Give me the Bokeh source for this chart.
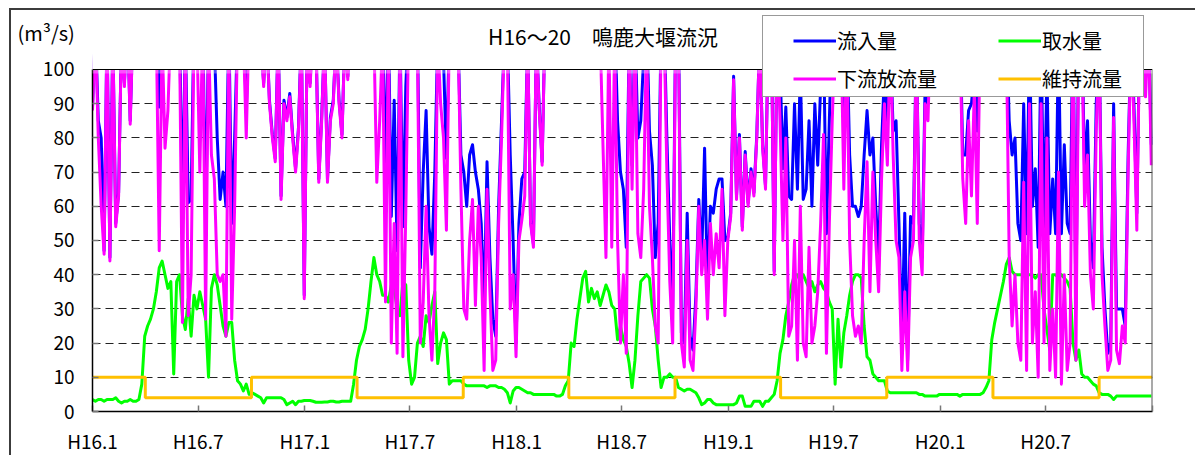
import pandas as pd
from bokeh.plotting import figure
from bokeh.models import Range1d, FixedTicker, Legend, LegendItem, Label, BoxAnnotation, Span
from bokeh.embed import file_html
from bokeh.resources import INLINE

# Kuzuryu River, Narutoshika weir: 5-day readings from 2004-01-01 (H16) to 2008-12-30 (H20), m3/s
# (values above the 100 ceiling run off the top of the chart)
START = pd.Timestamp("2004-01-01")
STEP_DAYS = 5

# 流入量 (inflow)
inflow_h16 = [89, 112, 85, 80, 47, 112, 45, 111, 55, 64,
              110, 96, 116, 85, 114, 116, 116, 112, 116, 116,
              116, 116, 116, 89, 116, 116, 110, 116, 114, 116,
              116, 54, 112, 61, 62, 116, 116, 105, 116, 54,
              110, 111, 108, 80, 62, 70, 60, 114, 55, 80,
              112, 116, 116, 88, 114, 116, 116, 114, 110, 96,
              112, 91, 81, 74, 111, 63, 91, 86, 93, 81,
              71, 83, 111]
inflow_h17 = [34, 110, 96, 112, 111, 68, 86, 110, 68, 86,
              91, 110, 91, 81, 110, 98, 114, 116, 116, 114,
              116, 116, 116, 116, 116, 107, 110, 116, 66, 116,
              57, 91, 47, 112, 54, 95, 116, 116, 114, 114,
              42, 70, 88, 54, 46, 70, 110, 110, 103, 74,
              110, 116, 112, 110, 75, 70, 60, 75, 78, 70,
              65, 55, 30, 73, 45, 27, 22, 60, 85, 110,
              110, 75, 50]
inflow_h18 = [20, 55, 68, 70, 110, 56, 49, 110, 89, 73,
              114, 114, 116, 116, 116, 116, 114, 116, 116, 116,
              116, 116, 116, 116, 116, 116, 116, 116, 116, 116,
              111, 110, 114, 105, 116, 85, 70, 65, 48, 110,
              72, 114, 80, 85, 104, 116, 82, 72, 45, 55,
              112, 116, 80, 50, 30, 112, 116, 23, 20, 58,
              22, 18, 34, 62, 45, 77, 35, 60, 58, 65,
              68, 68, 50]
inflow_h19 = [51, 58, 98, 63, 81, 54, 76, 61, 71, 64,
              81, 110, 78, 66, 112, 114, 41, 112, 102, 71,
              89, 63, 62, 90, 65, 100, 62, 65, 85, 60,
              90, 72, 95, 110, 52, 85, 115, 110, 116, 114,
              88, 112, 75, 60, 60, 57, 60, 75, 88, 75,
              80, 60, 45, 78, 99, 84, 110, 82, 85, 55,
              20, 58, 15, 57, 55, 110, 55, 45, 95, 90,
              114, 116, 112]
inflow_h20 = [110, 114, 115, 112, 116, 110, 112, 115, 75, 75,
              88, 90, 100, 82, 110, 114, 116, 112, 110, 116,
              116, 116, 116, 116, 85, 75, 80, 55, 50, 90,
              52, 110, 60, 71, 48, 110, 50, 100, 52, 68,
              52, 110, 52, 78, 55, 52, 116, 30, 116, 114,
              70, 85, 50, 42, 90, 110, 48, 30, 17, 20,
              90, 30, 30, 30, 25, 75, 110, 90, 58, 112,
              114, 97, 112, 78]

# 取水量 (intake)
intake_h16 = [3.5, 3, 3.5, 3.5, 3, 3.5, 3.5, 3.5, 4, 3,
              2.5, 3, 3, 3.5, 3, 3, 3.5, 8, 22, 25,
              27, 30, 35, 42, 44, 40, 36, 38, 11, 38,
              40, 28, 24, 33, 22, 34, 30, 35, 31, 27,
              10, 36, 40, 37, 31, 25, 22, 26, 26, 15,
              9, 8, 6, 8, 5, 5.5, 5, 4.5, 4, 2.5,
              4, 4, 4, 4, 4, 4, 3.5, 2, 2.5, 3,
              2, 3, 3]
intake_h17 = [3.2, 3.2, 3.2, 3, 2.7, 2.7, 2.7, 2.8, 2.8, 3,
              3, 2.8, 2.8, 3, 3, 3, 3, 8, 15, 19,
              21, 24, 30, 38, 45, 40, 38, 34, 34, 32,
              37, 36, 30, 28, 38, 37, 15, 8, 10, 20,
              22, 19, 28, 26, 31, 35, 14, 20, 23, 21,
              8, 9, 9, 9, 9, 8, 7.5, 7.5, 7.5, 7.5,
              7.5, 7.5, 7.5, 7, 7.5, 7.5, 7.5, 7, 7, 6.5,
              5.5, 2.5, 6]
intake_h18 = [7, 7, 6.5, 6, 5.5, 5.5, 5, 5, 5, 5,
              5, 5, 5, 5, 4.5, 4.5, 5, 7.5, 9, 20,
              19, 27, 33, 39, 41, 32, 36, 33, 35, 31,
              34, 37, 35, 31, 30, 21, 25, 21, 19, 14,
              7, 15, 28, 38, 39, 40, 39, 30, 25, 15,
              7, 10, 10, 11, 10, 10, 7, 6.5, 6, 6.5,
              6.5, 6, 5.5, 4, 2, 2.5, 3.5, 3.5, 2.5, 2,
              2, 2, 2]
intake_h19 = [2, 2, 2, 2.5, 4.5, 4.5, 1.5, 1.5, 1.5, 3,
              3, 3, 1.5, 3, 3, 4, 5, 9, 17, 21,
              28, 32, 37, 40, 40, 38, 40, 38, 36, 38,
              35, 37, 38, 36, 35, 32, 30, 8, 27, 13,
              23, 28, 34, 38, 40, 40, 39, 25, 16, 15,
              11, 10, 9, 9, 9, 6, 5.5, 5.5, 5.5, 5.5,
              5.5, 5.5, 5.5, 5.5, 5.5, 5.5, 5, 5, 4.5, 4.5,
              4.5, 4.5, 4.5]
intake_h20 = [5, 5, 5, 5, 5, 5, 5, 4.5, 5, 5,
              5, 5, 5, 5, 5, 5.5, 7, 9, 21, 26,
              30, 34, 38, 43, 45, 41, 40, 40, 40, 40,
              40, 40, 40, 39, 40, 40, 30, 24, 18, 40,
              40, 39, 40, 39, 38, 36, 20, 15, 18, 11,
              10, 10, 9, 8, 7.5, 5.5, 5, 5, 5, 4.5,
              3.5, 4.5, 4.5, 4.5, 4.5, 4.5, 4.5, 4.5, 4.5, 4.5,
              4.5, 4.5, 4.5, 4.5]

# 下流放流量 (downstream release)
release_h16 = [88, 112, 80, 60, 46, 112, 44, 110, 54, 63,
               110, 95, 116, 84, 114, 116, 116, 112, 116, 116,
               114, 110, 112, 47, 110, 77, 88, 114, 112, 116,
               110, 26, 110, 28, 40, 112, 110, 70, 114, 27,
               110, 75, 68, 40, 38, 40, 22, 110, 27, 60,
               112, 116, 110, 80, 114, 116, 116, 114, 110, 95,
               112, 90, 80, 73, 110, 62, 90, 85, 92, 80,
               70, 82, 110]
release_h17 = [33, 110, 95, 112, 110, 67, 85, 110, 67, 85,
               90, 110, 90, 80, 110, 97, 114, 116, 116, 112,
               116, 116, 114, 112, 110, 67, 85, 110, 32, 110,
               20, 55, 17, 110, 16, 58, 114, 116, 112, 110,
               20, 32, 60, 28, 15, 35, 110, 90, 80, 53,
               110, 116, 112, 110, 65, 30, 27, 50, 62, 31,
               60, 45, 12, 65, 35, 12, 15, 55, 80, 110,
               110, 30, 40]
release_h18 = [16, 50, 56, 63, 110, 55, 48, 110, 88, 72,
               114, 114, 116, 116, 116, 116, 114, 116, 116, 112,
               116, 114, 116, 116, 114, 112, 116, 114, 112, 110,
               77, 45, 110, 48, 110, 50, 20, 40, 17, 110,
               65, 112, 52, 45, 65, 110, 60, 45, 25, 20,
               112, 114, 70, 38, 20, 110, 110, 20, 13, 50,
               15, 12, 30, 60, 40, 50, 27, 55, 40, 52,
               42, 65, 28]
release_h19 = [50, 57, 97, 62, 80, 53, 75, 60, 70, 63,
               80, 110, 77, 65, 112, 114, 40, 112, 85, 50,
               80, 22, 25, 50, 15, 60, 20, 16, 48, 20,
               25, 35, 55, 81, 17, 55, 85, 110, 114, 112,
               65, 110, 50, 28, 22, 25, 20, 50, 73, 35,
               70, 50, 35, 68, 90, 72, 110, 75, 50, 45,
               12, 35, 12, 45, 50, 110, 50, 40, 90, 85,
               114, 116, 112]
release_h20 = [110, 114, 110, 112, 116, 110, 112, 110, 68, 55,
               85, 63, 95, 55, 110, 114, 116, 112, 97, 114,
               116, 112, 114, 110, 45, 25, 40, 20, 15, 67,
               12, 90, 20, 35, 10, 90, 20, 80, 12, 30,
               10, 70, 8, 40, 12, 20, 112, 15, 114, 112,
               60, 75, 40, 30, 82, 110, 40, 25, 12, 15,
               86, 18, 14, 25, 20, 70, 110, 85, 53, 112,
               114, 92, 112, 72]

# 維持流量 (required maintenance flow), one value per month
maint_h16 = [10, 10, 10, 4, 4, 4, 4, 4, 4, 10, 10, 10]
maint_h17 = [10, 10, 10, 4, 4, 4, 4, 4, 4, 10, 10, 10]
maint_h18 = [10, 10, 10, 4, 4, 4, 4, 4, 4, 10, 10, 10]
maint_h19 = [10, 10, 10, 4, 4, 4, 4, 4, 4, 10, 10, 10]
maint_h20 = [10, 10, 10, 4, 4, 4, 4, 4, 4, 10, 10, 10]

tick_dates = ["2004-01-01", "2004-07-01", "2005-01-01", "2005-07-01", "2006-01-01",
              "2006-07-01", "2007-01-01", "2007-07-01", "2008-01-01", "2008-07-01",
              "2009-01-01"]
tick_labels = ["H16.1", "H16.7", "H17.1", "H17.7", "H18.1", "H18.7",
               "H19.1", "H19.7", "H20.1", "H20.7", ""]
y_ticks = [0, 10, 20, 30, 40, 50, 60, 70, 80, 90, 100]

inflow = inflow_h16 + inflow_h17 + inflow_h18 + inflow_h19 + inflow_h20
intake = intake_h16 + intake_h17 + intake_h18 + intake_h19 + intake_h20
release = release_h16 + release_h17 + release_h18 + release_h19 + release_h20
maint = maint_h16 + maint_h17 + maint_h18 + maint_h19 + maint_h20

days = [STEP_DAYS * k for k in range(len(inflow))]
month_starts = pd.date_range(START, periods=len(maint) + 1, freq="MS")
month_days = [(d - START).days for d in month_starts]
maint_steps = maint + [maint[-1]]
tick_days = [(pd.Timestamp(d) - START).days for d in tick_dates]
end_day = tick_days[-1]

FONT = "Noto Sans CJK JP"
Y_MAX = 100
Y_TOP = 117.25  # headroom above the 100 line holds the title and the legend

p = figure(width=1186, height=447, output_backend="svg", toolbar_location=None,
           x_range=Range1d(0, end_day), y_range=Range1d(0, Y_TOP),
           min_border_left=81, min_border_right=45, min_border_top=0, min_border_bottom=46,
           background_fill_color="white", border_fill_color="white")
p.styles = {"margin-left": "9px", "margin-top": "8px", "overflow": "hidden",
            "border-left": "2px solid #3c3c3c", "border-top": "2px solid #3c3c3c"}
p.outline_line_color = None

# axes
p.yaxis.ticker = FixedTicker(ticks=y_ticks)
p.yaxis.bounds = (0, Y_MAX)
p.xaxis.ticker = FixedTicker(ticks=tick_days)
p.xaxis.major_label_overrides = {d: lab for d, lab in zip(tick_days, tick_labels)}
for ax in (p.xaxis[0], p.yaxis[0]):
    ax.axis_line_color = "black"
    ax.axis_line_width = 1.5
    ax.major_tick_in = 6
    ax.major_tick_out = 0
    ax.major_tick_line_color = "#777777"
    ax.major_tick_line_width = 1.5
    ax.minor_tick_line_color = None
    ax.major_label_text_font = FONT
    ax.major_label_text_font_size = "19px"
    ax.major_label_text_color = "black"
p.yaxis.major_label_standoff = 18
p.xaxis.major_label_standoff = 15

# unit caption at the top of the value axis (second line of a two-line label)
p.yaxis.axis_label = "\n(m³/s)"
p.yaxis.axis_label_orientation = "horizontal"
p.yaxis.axis_label_align = "end"
p.yaxis.axis_label_standoff = -35
p.yaxis.axis_label_text_font = FONT
p.yaxis.axis_label_text_font_size = "20px"
p.yaxis.axis_label_text_font_style = "normal"
p.yaxis.axis_label_text_color = "black"
p.yaxis.axis_label_text_line_height = 1.5

p.xgrid.visible = False
p.ygrid.ticker = FixedTicker(ticks=y_ticks[1:-1])
p.ygrid.grid_line_color = "#222222"
p.ygrid.grid_line_dash = "8 5"
p.ygrid.grid_line_width = 1

# series
r_in = p.line(days, inflow, line_color="#0000FF", line_width=3, line_join="round")
r_take = p.line(days, intake, line_color="#00FF00", line_width=3, line_join="round")
r_out = p.line(days, release, line_color="#FF00FF", line_width=3, line_join="round")
r_maint = p.step(month_days, maint_steps, mode="after", line_color="#FFC000", line_width=3)
p.segment(x0=[end_day], y0=[0], x1=[end_day], y1=[Y_MAX], line_color="#555555", line_width=2)
r_blank = p.line([0, 1], [-50, -50], line_alpha=0)

# plot area ends at 100: blank the headroom and draw the top edge
p.add_layout(BoxAnnotation(bottom=Y_MAX, top=Y_TOP + 50, left=-200, right=end_day + 200,
                           fill_color="white", fill_alpha=1.0,
                           line_color="white", line_width=8))
p.add_layout(Span(location=Y_MAX, dimension="width", line_color="black", line_width=1.2))

# title
p.add_layout(Label(x=880, y=109.9, text="H16～20\u3000鳴鹿大堰流況", text_align="center",
                   text_baseline="middle", text_font=FONT, text_font_size="21px",
                   text_color="black"))

# legend: framed box plus two columns of entries
box = Legend(items=[LegendItem(label=" ", renderers=[r_blank])], location=(670, 314),
             glyph_width=1, glyph_height=80, label_width=379, label_height=80,
             padding=0, label_standoff=0, spacing=0, margin=0,
             border_line_color="#333333", border_line_width=1,
             background_fill_color="white", background_fill_alpha=1.0)
common = dict(orientation="vertical", glyph_width=43, glyph_height=21, label_standoff=1,
              spacing=9, padding=0, margin=0, border_line_alpha=0, background_fill_alpha=0,
              label_text_font=FONT, label_text_font_size="20px", label_text_color="black")
leg_a = Legend(items=[LegendItem(label="流入量", renderers=[r_in]),
                      LegendItem(label="下流放流量", renderers=[r_out])],
               location=(701, 318), **common)
leg_b = Legend(items=[LegendItem(label="取水量", renderers=[r_take]),
                      LegendItem(label="維持流量", renderers=[r_maint])],
               location=(906, 318), **common)
p.add_layout(box)
p.add_layout(leg_a)
p.add_layout(leg_b)

open("out.html", "w").write(file_html(p, INLINE))
